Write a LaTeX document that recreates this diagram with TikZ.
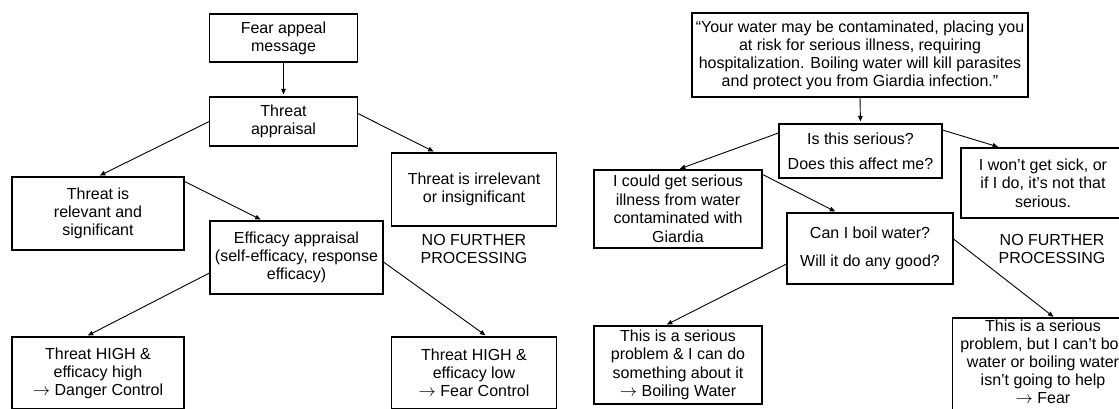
\documentclass[tikz,border=0pt]{standalone}
\usepackage{fontspec}
\setmainfont{Liberation Sans}
\usetikzlibrary{arrows.meta,calc}
\begin{document}
\begin{tikzpicture}[x=1pt,y=-1pt,
  box/.style={draw, line width=1.1pt, align=center, inner sep=0pt, font=\fontsize{16}{18}\selectfont},
  rbox/.style={box, font=\fontsize{16}{18.5}\selectfont},
  lbl/.style={align=center, inner sep=0pt, font=\fontsize{16}{18}\selectfont},
  arr/.style={line width=0.9pt, -{Triangle[length=5.5pt,width=4.5pt]}, shorten >=2pt}]
\useasboundingbox (0,0) rectangle (1119,408);
\clip (0,0) rectangle (1119,408);
% ---------- left panel ----------
\node[box, minimum width=147.5, minimum height=48] (fear) at (283.5,38) {Fear appeal\\message};
\node[box, minimum width=147.5, minimum height=49] (thr) at (283.5,121.5) {Threat\\appraisal};
\node[box, minimum width=172, minimum height=73] (rel) at (98,213.5) {Threat is\\relevant and\\significant};
\node[box, minimum width=165, minimum height=73] (irr) at (474,189.5) {Threat is irrelevant\\or insignificant};
\node[lbl] (nfp1) at (474,249) {NO FURTHER\\PROCESSING};
\node[box, minimum width=173, minimum height=73] (eff) at (296.5,257.5) {Efficacy appraisal\\(self-efficacy, response\\efficacy)};
\node[box, minimum width=172, minimum height=72] (hh) at (98,373) {Threat HIGH \&\\efficacy high\\$\rightarrow$ Danger Control};
\node[box, minimum width=165, minimum height=72] (hl) at (474,373) {Threat HIGH \&\\efficacy low\\$\rightarrow$ Fear Control};
\draw[arr] (fear.south) -- (thr.north);
\draw[arr] (thr.west) -- (rel.north);
\draw[arr] ($(thr.east)+(0,-8)$) -- ($(irr.north)+(-38.5,0)$);
\draw[arr] ($(rel.north east)+(0,5)$) -- ($(eff.north)+(-34,0)$);
\draw[arr] ($(eff.west)+(0,15.5)$) -- ($(hh.north)+(-12,0)$);
\draw[arr] ($(eff.east)+(0,4.5)$) -- ($(hl.north)+(13,0)$);
% ---------- right panel ----------
\node[rbox, minimum width=336, minimum height=84, font=\fontsize{16}{18}\selectfont] (msg) at (860,55) {“Your water may be contaminated, placing you\\at risk for serious illness, requiring\\hospitalization. Boiling water will kill parasites\\and protect you from Giardia infection.”};
\node[rbox, minimum width=163, minimum height=54] (is) at (860.5,151) {Is this serious?\\[6.5pt]Does this affect me?};
\node[rbox, minimum width=168, minimum height=78] (could) at (678,209) {I could get serious\\illness from water\\contaminated with\\Giardia};
\node[rbox, minimum width=164, minimum height=70] (wont) at (1043,183) {I won’t get sick, or\\if I do, it’s not that\\serious.};
\node[rbox, minimum width=166, minimum height=71] (can) at (870,248.5) {Can I boil water?\\[9pt]Will it do any good?};
\node[lbl] (nfp2) at (1052,248.5) {NO FURTHER\\PROCESSING};
\node[rbox, minimum width=168, minimum height=78] (yes) at (678,365) {This is a serious\\problem \& I can do\\something about it\\$\rightarrow$ Boiling Water};
\node[rbox, draw=none, anchor=north, minimum width=180, inner ysep=1.5pt, font=\fontsize{16}{18}\selectfont] (no) at (1043,318) {This is a serious\\problem, but I can’t boil\\water or boiling water\\isn’t going to help\\$\rightarrow$ Fear};
\draw[line width=1.1pt] (no.north west) rectangle ($(no.north east)+(0,110)$);
\draw[arr] (msg.south) -- (is.north);
\draw[arr] ($(is.west)+(0,-18)$) -- (could.north);
\draw[arr] ($(is.east)+(0,-21)$) -- ($(wont.north)+(-43,0)$);
\draw[arr] ($(could.north east)+(0,5)$) -- ($(can.north)+(-33,0)$);
\draw[arr] ($(can.west)+(0,15.5)$) -- ($(yes.north)+(-13,0)$);
\draw[arr] ($(can.east)+(0,-9.5)$) -- ($(no.north)+(12,0)$);
\end{tikzpicture}
\end{document}
